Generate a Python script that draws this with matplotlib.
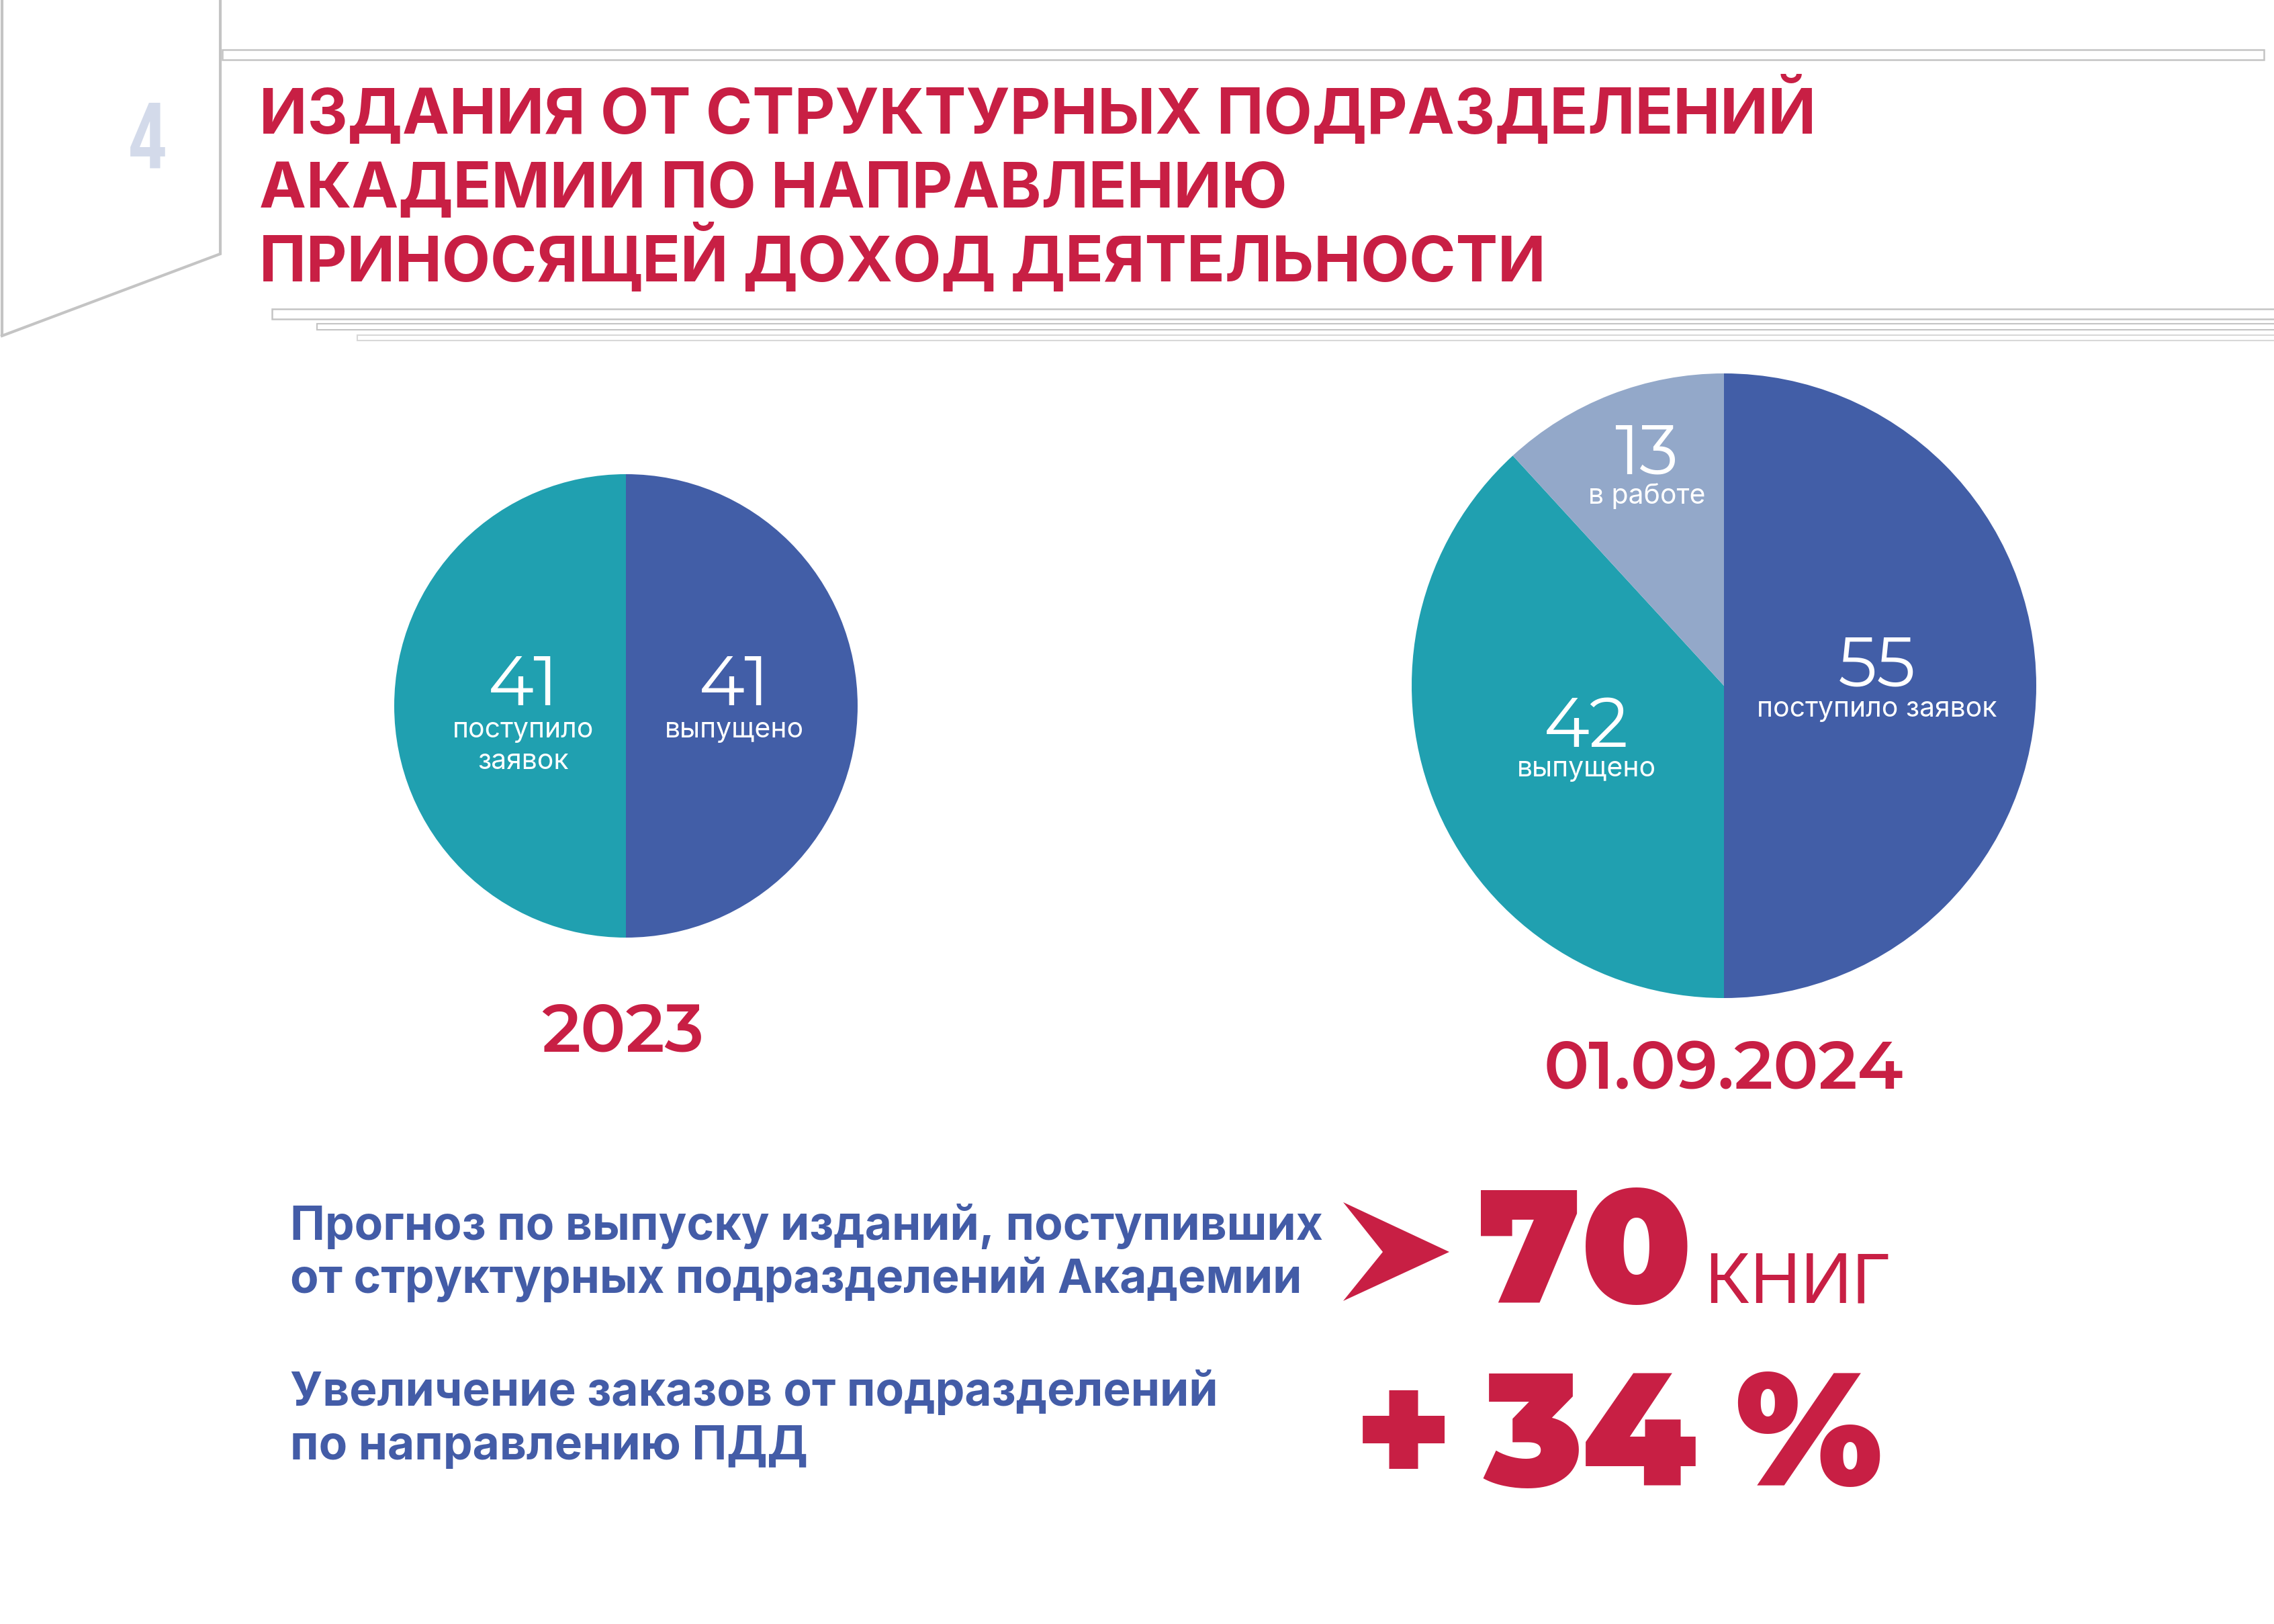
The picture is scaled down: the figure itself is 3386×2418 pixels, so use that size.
#Publications from academy departments (income-generating activity)
import matplotlib
matplotlib.use('Agg')
import matplotlib.pyplot as plt
from matplotlib.patches import Polygon, Rectangle

#Data
pie_2023_values = [41, 41]
pie_2023_labels = ['выпущено', 'поступило\nзаявок']
pie_2024_values = [55, 42, 13]
pie_2024_labels = ['поступило заявок', 'выпущено', 'в работе']
year_labels = ['2023', '01.09.2024']
title_lines = ['ИЗДАНИЯ ОТ СТРУКТУРНЫХ ПОДРАЗДЕЛЕНИЙ',
               'АКАДЕМИИ ПО НАПРАВЛЕНИЮ',
               'ПРИНОСЯЩЕЙ ДОХОД ДЕЯТЕЛЬНОСТИ']
forecast_text = ['Прогноз по выпуску изданий, поступивших',
                 'от структурных подразделений Академии']
forecast_value = 70
forecast_unit = 'КНИГ'
growth_text = ['Увеличение заказов от подразделений',
               'по направлению ПДД']
growth_value = 34
page_number = '4'

#Colours
RED = '#C81F44'
BLUE = '#425EA7'
TEAL = '#20A0B0'
LIGHT = '#93A8C9'
TEXT_BLUE = '#435CA7'
GREY = '#C4C4C4'
DIGITS = 'Montserrat Alternates'   #digits are the same as plain Montserrat
TEXT = 'Inter'

W, H = 3386, 2418
fig = plt.figure(figsize=(W / 100, H / 100), dpi=100)
fig.patch.set_facecolor('white')

#Background axes in pixel coordinates (for decorations)
bg = fig.add_axes([0, 0, 1, 1], zorder=0)
bg.set_xlim(0, W)
bg.set_ylim(H, 0)
bg.axis('off')

#Page corner shape
bg.plot([3, 3], [0, 500], color=GREY, lw=3, solid_capstyle='butt')
bg.plot([3, 328, 328], [500, 378, 0], color=GREY, lw=3, solid_joinstyle='miter')
#Thin framed bars
bg.add_patch(Rectangle((331, 74), 3040, 15, facecolor='white', edgecolor=GREY, lw=1.8))
bg.add_patch(Rectangle((405, 460), 3000, 15, facecolor='white', edgecolor=GREY, lw=1.8))
bg.add_patch(Rectangle((472, 482), 3000, 9, facecolor='white', edgecolor=GREY, lw=1.5))
bg.add_patch(Rectangle((532, 499), 3000, 8, facecolor='white', edgecolor='#D8D8D8', lw=1.5))


def pie_axes(cx, cy, r):
    ax = fig.add_axes([(cx - r) / W, 1 - (cy + r) / H, 2 * r / W, 2 * r / H], zorder=1)
    return ax


#Pie 2023
ax1 = pie_axes(932, 1051, 345)
ax1.pie(pie_2023_values, colors=[BLUE, TEAL], startangle=90, counterclock=False,
        wedgeprops=dict(linewidth=0))
ax1.set_xlim(-1, 1)
ax1.set_ylim(-1, 1)

#Pie 01.09.2024
ax2 = pie_axes(2567, 1021, 465)
ax2.pie(pie_2024_values, colors=[BLUE, TEAL, LIGHT], startangle=90, counterclock=False,
        wedgeprops=dict(linewidth=0))
ax2.set_xlim(-1, 1)
ax2.set_ylim(-1, 1)

#Overlay axes for all the text
top = fig.add_axes([0, 0, 1, 1], zorder=2)
top.set_xlim(0, W)
top.set_ylim(H, 0)
top.axis('off')
top.patch.set_alpha(0)

top.text(220, 250, page_number, color='#D3DAEA', fontsize=100, family='Bebas Neue',
         ha='center', va='baseline')

for i, line in enumerate(title_lines):
    top.text(386, 199 + i * 110, line, color=RED, fontsize=67.5, family=TEXT,
             fontweight='bold', ha='left', va='baseline')


def pie_label(x, yn, yl, val, lab):
    top.text(x, yn, str(val), color='white', fontsize=74, family=DIGITS, fontweight='normal',
             ha='center', va='baseline')
    for j, part in enumerate(lab.split('\n')):
        top.text(x, yl + j * 47, part, color='white', fontsize=29.5, family=TEXT,
                 fontweight='normal', ha='center', va='baseline')


#Pie labels: (x centre, number baseline, label baseline)
label_pos_2023 = [(1093, 1050, 1098), (779, 1050, 1098)]
for val, lab, (x, yn, yl) in zip(pie_2023_values, pie_2023_labels, label_pos_2023):
    pie_label(x, yn, yl, val, lab)

label_pos_2024 = [(2795, 1021, 1067), (2362, 1112, 1156), (2452, 706, 750)]
for val, lab, (x, yn, yl) in zip(pie_2024_values, pie_2024_labels, label_pos_2024):
    pie_label(x, yn, yl, val, lab)

#Year captions
for lab, (x, y) in zip(year_labels, [(927, 1565), (2566, 1621)]):
    top.text(x, y, lab, color=RED, fontsize=72, family=DIGITS, fontweight='semibold',
             ha='center', va='baseline')

#Forecast block
for i, line in enumerate(forecast_text):
    top.text(432, 1846 + i * 79, line, color=TEXT_BLUE, fontsize=50, family=TEXT,
             fontweight='bold', ha='left', va='baseline')
top.add_patch(Polygon([(2000, 1790), (2158, 1864), (2000, 1937), (2059, 1864)],
                      closed=True, facecolor=RED, edgecolor='none'))
top.text(2200, 1939, str(forecast_value), color=RED, fontsize=172, family=DIGITS,
         fontweight='black', ha='left', va='baseline')
top.text(2538, 1939, forecast_unit, color=RED, fontsize=73, family=TEXT,
         fontweight='normal', ha='left', va='baseline')

#Growth block
for i, line in enumerate(growth_text):
    top.text(432, 2093 + i * 80, line, color=TEXT_BLUE, fontsize=50, family=TEXT,
             fontweight='bold', ha='left', va='baseline')
growth_parts = [('+', 2090), (str(growth_value), 2368), ('%', 2693)]
for part, x in growth_parts:
    top.text(x, 2212, part, color=RED, fontsize=172, family=DIGITS,
             fontweight='black', ha='center', va='baseline')

fig.savefig('out.png', dpi=100, facecolor='white')
